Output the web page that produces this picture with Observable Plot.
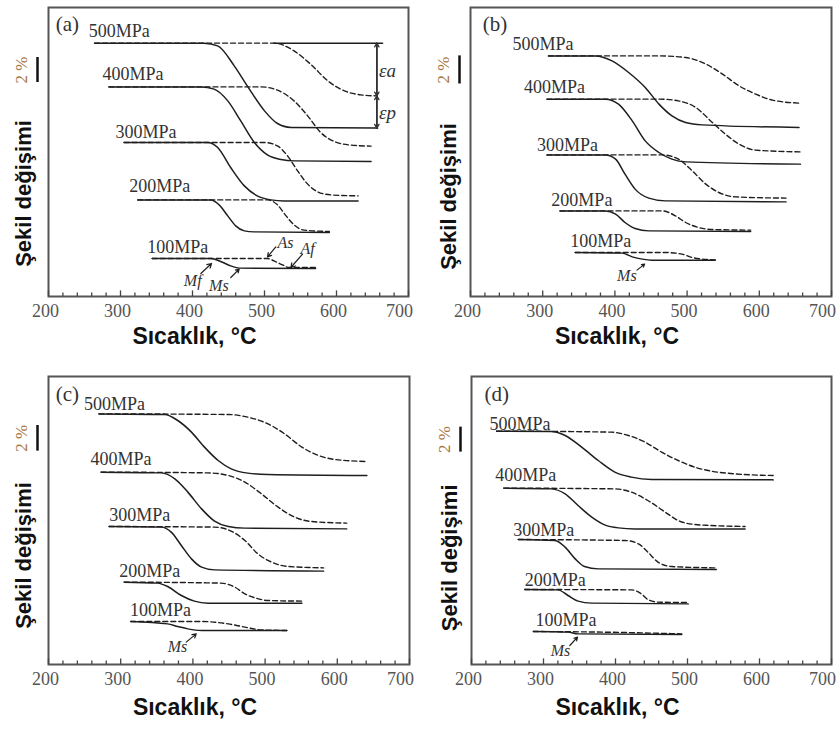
<!DOCTYPE html>
<html><head><meta charset="utf-8">
<script src="https://cdn.jsdelivr.net/npm/d3@7"></script>
<script src="https://cdn.jsdelivr.net/npm/@observablehq/plot@0.6"></script>
<style>
body{margin:0;background:#fff;}
#wrap{position:relative;width:838px;height:729px;background:#fff;}
.p{position:absolute;}
</style></head><body><div id="wrap"></div>
<script>
// ---------- data (x: temperature °C, y: shape change %, measured from the frame bottom) ----------
const xTicks = [200, 300, 400, 500, 600];
const xTicksEnd = [700];
const minorTicks = d3.range(200, 701, 20);
const panelTags = ["(a)", "(b)", "(c)", "(d)"];
const stressLabels = ["500MPa", "400MPa", "300MPa", "200MPa", "100MPa"];
const xLabel = "Sıcaklık, °C";
const yLabel = "Şekil değişimi";
const scaleLabel = "2 %";

// rows: [stress MPa, temperature, strain]
const aSolid = [
  [500,264,20.27],[500,416,20.27],[500,435,20.05],[500,458,18.45],[500,476,16.85],[500,500,14.85],[500,518,13.84],[500,537,13.52],[500,657,13.47],
  [400,284,16.77],[400,412,16.77],[400,430,16.59],[400,449,15.65],[400,467,14.05],[400,486,12.32],[400,504,11.33],[400,523,10.96],[400,541,10.85],[400,648,10.8],
  [300,305,12.32],[300,421,12.32],[300,435,11.92],[300,453,10.32],[300,472,8.85],[300,490,8.05],[300,509,7.73],[300,527,7.65],[300,630,7.65],
  [200,324,7.73],[200,426,7.73],[200,437,7.33],[200,449,6.45],[200,460,5.65],[200,472,5.25],[200,486,5.17],[200,590,5.12],
  [100,344,3.04],[100,426,3.04],[100,439,2.8],[100,453,2.45],[100,465,2.27],[100,571,2.24]
];
const aDashed = [
  [500,264,20.27],[500,513,20.27],[500,541,19.65],[500,564,18.59],[500,588,17.25],[500,611,16.45],[500,634,16.13],[500,655,16.05],
  [400,284,16.77],[400,495,16.77],[400,518,16.51],[400,541,15.65],[400,560,14.45],[400,578,13.12],[400,597,12.4],[400,620,12.11],[400,648,12.03],
  [300,305,12.32],[300,500,12.32],[300,518,12.05],[300,532,11.25],[300,546,10.05],[300,560,8.99],[300,574,8.37],[300,592,8.13],[300,630,8.05],
  [200,324,7.73],[200,504,7.73],[200,518,7.33],[200,530,6.45],[200,541,5.73],[200,555,5.31],[200,590,5.2],
  [100,344,3.04],[100,504,3.04],[100,513,2.85],[100,525,2.53],[100,534,2.32],[100,571,2.32]
];
const bSolid = [
  [500,308,19.25],[500,373,19.25],[500,396,18.85],[500,419,17.92],[500,442,16.72],[500,461,15.39],[500,479,14.45],[500,498,13.92],[500,521,13.73],[500,655,13.52],
  [400,306,15.79],[400,387,15.79],[400,405,15.39],[400,424,14.05],[400,442,12.45],[400,461,11.52],[400,479,10.99],[400,498,10.77],[400,657,10.59],
  [300,306,11.33],[300,387,11.33],[300,401,10.99],[300,414,9.79],[300,428,8.59],[300,447,7.87],[300,470,7.65],[300,637,7.57],
  [200,324,6.85],[200,387,6.85],[200,401,6.59],[200,414,5.92],[200,428,5.44],[200,447,5.25],[200,588,5.2],
  [100,345,3.52],[100,410,3.47],[100,424,3.17],[100,438,2.99],[100,451,2.91],[100,539,2.91]
];
const bDashed = [
  [500,308,19.25],[500,461,19.25],[500,498,19.12],[500,526,18.59],[500,549,17.79],[500,572,16.85],[500,595,16.19],[500,618,15.71],[500,655,15.47],
  [400,306,15.79],[400,461,15.79],[400,488,15.65],[400,512,15.12],[400,535,13.92],[400,553,12.99],[400,572,12.19],[400,595,11.71],[400,657,11.57],
  [300,306,11.33],[300,465,11.33],[300,488,10.99],[300,507,10.05],[300,526,8.99],[300,544,8.32],[300,567,7.97],[300,637,7.87],
  [200,324,6.85],[200,465,6.85],[200,484,6.45],[200,498,5.92],[200,516,5.52],[200,535,5.36],[200,588,5.31],
  [100,345,3.52],[100,470,3.52],[100,493,3.39],[100,507,3.12],[100,521,2.99],[100,539,2.93]
];
const cSolid = [
  [500,270,20.05],[500,361,20.0],[500,379,19.52],[500,398,18.59],[500,416,17.39],[500,435,16.32],[500,453,15.65],[500,476,15.31],[500,504,15.2],[500,641,15.12],
  [400,273,15.39],[400,356,15.33],[400,375,14.85],[400,393,13.79],[400,412,12.45],[400,430,11.47],[400,449,11.04],[400,472,10.91],[400,613,10.85],
  [300,284,11.04],[300,356,10.99],[300,370,10.59],[300,384,9.52],[300,398,8.45],[300,412,7.79],[300,430,7.57],[300,581,7.47],
  [200,305,6.59],[200,351,6.51],[200,365,6.24],[200,384,5.52],[200,402,5.07],[200,421,4.91],[200,551,4.91],
  [100,314,3.44],[100,365,3.25],[100,379,3.04],[100,393,2.85],[100,412,2.72],[100,530,2.72]
];
const cDashed = [
  [500,270,20.05],[500,449,20.0],[500,476,19.79],[500,504,19.25],[500,527,18.45],[500,551,17.39],[500,574,16.72],[500,597,16.4],[500,641,16.24],
  [400,273,15.39],[400,421,15.33],[400,449,15.12],[400,472,14.59],[400,495,13.65],[400,518,12.59],[400,541,11.79],[400,564,11.44],[400,613,11.31],
  [300,284,11.04],[300,430,10.99],[300,453,10.67],[300,472,9.92],[300,490,8.85],[300,509,8.19],[300,532,7.84],[300,581,7.73],
  [200,305,6.59],[200,439,6.51],[200,458,6.19],[200,472,5.65],[200,486,5.33],[200,504,5.12],[200,551,5.07],
  [100,314,3.44],[100,412,3.44],[100,449,3.25],[100,472,2.99],[100,495,2.77],[100,530,2.72]
];
const dSolid = [
  [500,235,18.67],[500,311,18.64],[500,330,18.32],[500,353,17.39],[500,376,16.32],[500,399,15.39],[500,422,14.99],[500,450,14.8],[500,619,14.77],
  [400,245,14.11],[400,311,14.05],[400,330,13.65],[400,348,12.72],[400,367,11.79],[400,385,11.17],[400,404,10.93],[400,427,10.85],[400,580,10.85],
  [300,265,10.0],[300,316,9.92],[300,330,9.39],[300,344,8.45],[300,357,7.84],[300,376,7.65],[300,540,7.6],
  [200,274,6.0],[200,320,5.97],[200,334,5.52],[200,348,5.07],[200,367,4.91],[200,501,4.85],
  [100,286,2.64],[100,334,2.59],[100,348,2.45],[100,492,2.4]
];
const dDashed = [
  [500,235,18.67],[500,394,18.59],[500,418,18.32],[500,441,17.79],[500,464,16.99],[500,487,16.32],[500,510,15.79],[500,533,15.47],[500,566,15.25],[500,619,15.12],
  [400,245,14.11],[400,399,14.05],[400,422,13.79],[400,445,13.12],[400,469,12.19],[400,487,11.52],[400,510,11.2],[400,533,11.12],[400,580,11.04],
  [300,265,10.0],[300,413,9.92],[300,432,9.65],[300,445,8.99],[300,459,8.19],[300,478,7.84],[300,540,7.73],
  [200,274,6.0],[200,422,5.97],[200,436,5.65],[200,445,5.2],[200,459,4.99],[200,501,4.96],
  [100,286,2.64],[100,381,2.59],[100,492,2.45]
];

// label anchors (temperature, strain) for the five stress labels, in order 500..100
const aLabelPos = [[256,21.2],[275,17.79],[293,13.12],[312,8.85],[337,3.92]];
const bLabelPos = [[258,20.19],[274,16.72],[292,12.13],[312,7.73],[338,4.4]];
const cLabelPos = [[249,20.85],[258,16.45],[284,11.92],[298,7.47],[313,4.32]];
const dLabelPos = [[225,19.25],[233,15.12],[258,10.72],[274,6.77],[289,3.52]];
const tagPos = [[210,21.8],[217,21.8],[210,21.65],[218,21.65]];

// point annotations: [text, T, strain] and arrows [T1, s1, T2, s2]
const aNotes = [["As",518,4.32],["Af",550,3.79],["Mf",388,1.25],["Ms",423,0.85]];
const aArrows = [[515.7,3.97,504.2,3.17],[552.8,3.39,536.6,2.32],[411.6,1.84,426.4,2.64],[453.2,1.52,464.8,2.19]];
const bNotes = [["Ms",403,1.65]];
const bArrows = [[430.6,2.11,441.2,2.59]];
const cNotes = [["Ms",365,1.39]];
const cArrows = [[390.7,1.79,404.6,2.45]];
const dNotes = [["Ms",310,1.12]];
const dArrows = [[336.6,1.52,347.2,2.19]];

// strain decomposition in (a): top, middle, bottom of the 500 MPa curves
const epsT = 656;
const epsLevels = [20.27, 16.05, 13.47];
const epsRef = [[513,20.27],[664,20.27]];
const epsText = [["εa",659,18.05],["εp",659,14.72]];

// 2 % scale bar [low, high] per panel, and y-label centres
const scaleBars = [[17.12,19.12],[17.0,19.25],[17.07,19.12],[16.99,18.99]];
const yLabelCentre = [8.24, 8.0, 8.72, 8.53];

// ---------- drawing ----------
const SERIF = "Liberation Serif, Times New Roman, serif";
const SANS = "Liberation Sans, Arial, sans-serif";
const INK = "#1e1e1e";

function panel(i, solid, dashed, labelPos, notes, arrows, box) {
  const marks = [
    Plot.frame({stroke: "#555", strokeWidth: 2}),
    Plot.ruleX(minorTicks, {x: d => d, y1: () => 0, y2: d => d % 100 ? 0.28 : 0.45, stroke: "#444", strokeWidth: 1.3}),
    Plot.axisX({ticks: xTicks, tickSize: 0, tickPadding: 8, label: null, fontSize: 18, fontFamily: SERIF, fill: "#555", dx: -3}),
    Plot.axisX({ticks: xTicksEnd, tickSize: 0, tickPadding: 8, label: null, fontSize: 18, fontFamily: SERIF, fill: "#555", dx: -9}),
    Plot.line(dashed, {x: d => d[1], y: d => d[2], z: d => d[0], curve: "monotone-x", stroke: INK, strokeWidth: 1.4, strokeDasharray: "5,3"}),
    Plot.line(solid, {x: d => d[1], y: d => d[2], z: d => d[0], curve: "monotone-x", stroke: INK, strokeWidth: 1.5}),
    Plot.text(stressLabels, {x: (d, j) => labelPos[j][0], y: (d, j) => labelPos[j][1], text: d => d, textAnchor: "start", fontFamily: SERIF, fontSize: 18, fill: "#333"}),
    Plot.text([panelTags[i]], {x: () => tagPos[i][0], y: () => tagPos[i][1], text: d => d, textAnchor: "start", fontFamily: SERIF, fontSize: 21, fill: "#333"}),
    Plot.text(notes, {x: d => d[1], y: d => d[2], text: d => d[0], textAnchor: "start", fontFamily: SERIF, fontStyle: "italic", fontSize: 16, fill: "#333"}),
    Plot.arrow(arrows, {x1: d => d[0], y1: d => d[1], x2: d => d[2], y2: d => d[3], stroke: INK, strokeWidth: 1.2, headLength: 6}),
    Plot.ruleX([200], {x: d => d, y1: () => scaleBars[i][0], y2: () => scaleBars[i][1], dx: -11, stroke: "#111", strokeWidth: 2.5}),
    Plot.text([scaleLabel], {x: () => 200, y: () => (scaleBars[i][0] + scaleBars[i][1]) / 2, dx: -27, rotate: -90, text: d => d, fontFamily: SERIF, fontSize: 17, fill: "#a8763f"}),
    Plot.text([yLabel], {x: () => 200, y: () => yLabelCentre[i], dx: (i % 2 ? -22 : -25), rotate: -90, text: d => d, fontFamily: SANS, fontWeight: "bold", fontSize: 22, fill: "#111"}),
    Plot.text([xLabel], {frameAnchor: "bottom", dx: -34, dy: box.xlabDy, text: d => d, fontFamily: SANS, fontWeight: "bold", fontSize: 23, fill: "#111"})
  ];
  if (i === 0) {
    marks.push(
      Plot.line(epsRef, {x: d => d[0], y: d => d[1], stroke: INK, strokeWidth: 1.5}),
      Plot.ruleX([epsT], {x: d => d, y1: () => epsLevels[2], y2: () => epsLevels[0], stroke: "#333", strokeWidth: 1.3}),
      Plot.arrow([[epsLevels[1], epsLevels[0]], [epsLevels[0], epsLevels[1]], [epsLevels[1], epsLevels[2]], [epsLevels[2], epsLevels[1]]],
        {x1: () => epsT, x2: () => epsT, y1: d => d[0], y2: d => d[1], stroke: "#333", strokeWidth: 1.3, headLength: 5}),
      Plot.text(epsText, {x: d => d[1], y: d => d[2], text: d => d[0], textAnchor: "start", fontFamily: SERIF, fontStyle: "italic", fontSize: 19, fill: "#333"})
    );
  }
  const svg = Plot.plot({
    width: 419, height: box.h,
    marginLeft: box.mL, marginRight: box.mR, marginTop: box.mT, marginBottom: box.mB,
    x: {domain: [200, 700], axis: null},
    y: {domain: [0, box.yMax], axis: null},
    style: {background: "transparent", overflow: "visible"},
    marks
  });
  const div = document.createElement("div");
  div.className = "p";
  div.style.left = box.left + "px";
  div.style.top = box.top + "px";
  div.appendChild(svg);
  document.getElementById("wrap").appendChild(div);
}

panel(0, aSolid, aDashed, aLabelPos, aNotes, aArrows, {left: 0, top: 0, h: 364, mL: 48, mR: 11, mT: 7, mB: 68, yMax: 23.12, xlabDy: 47});
panel(1, bSolid, bDashed, bLabelPos, bNotes, bArrows, {left: 419, top: 0, h: 364, mL: 51, mR: 7, mT: 7, mB: 68, yMax: 23.12, xlabDy: 47});
panel(2, cSolid, cDashed, cLabelPos, cNotes, cArrows, {left: 0, top: 364, h: 365, mL: 48, mR: 10, mT: 12, mB: 65, yMax: 23.04, xlabDy: 50});
panel(3, dSolid, dDashed, dLabelPos, dNotes, dArrows, {left: 419, top: 364, h: 365, mL: 52, mR: 7, mT: 12, mB: 65, yMax: 23.04, xlabDy: 50});
</script></body></html>
